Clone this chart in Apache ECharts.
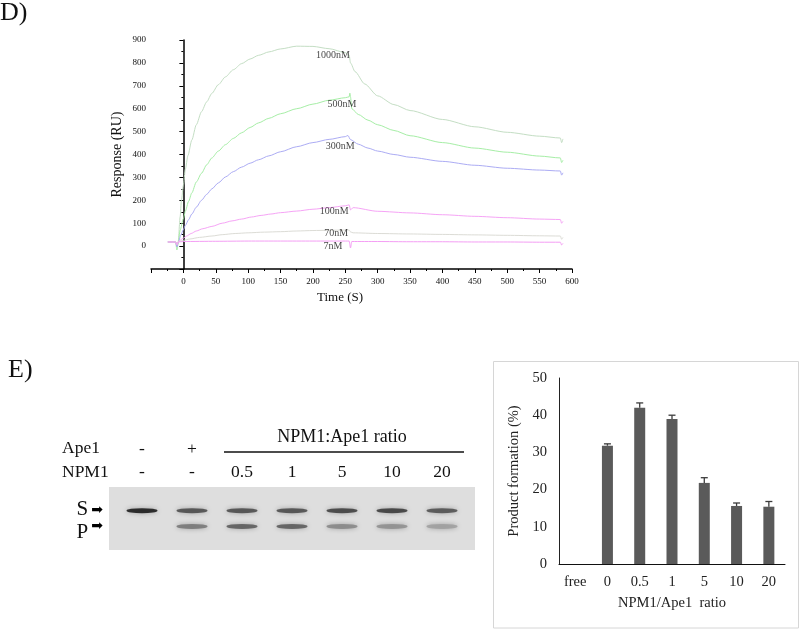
<!DOCTYPE html>
<html>
<head>
<meta charset="utf-8">
<script src="https://cdn.jsdelivr.net/npm/echarts@6/dist/echarts.min.js"></script>
<style>
html,body{margin:0;padding:0;background:#fff;}
#chart{width:800px;height:629px;}
</style>
</head>
<body>
<div id="chart"></div>
<script>
// ---------- Panel D: SPR sensorgram (time s, response RU) ----------
const curve1000 = [[-24,18],[-12,18],[-10,-3],[-8,20],[-5,128],[-3,200],[0,265],[3,335],[7,395],[13,463],[20,530],[28,587],[36,630],[44,667],[54,705],[65,739],[77,770],[90,797],[103,817],[116,833],[132,848],[150,861],[175,873],[200,872],[225,862],[250,845],[256,834],[258,800],[265,762],[280,708],[300,656],[325,618],[350,592],[400,553],[450,521],[500,497],[550,480],[582,472],[584,452],[586,468]];
const curve500 = [[-24,18],[-12,18],[-10,-17],[-8,12],[-5,70],[0,120],[3,152],[8,195],[13,232],[20,280],[28,318],[36,355],[44,385],[54,415],[65,443],[77,470],[90,495],[103,518],[116,538],[132,558],[150,578],[175,600],[200,620],[225,637],[250,648],[256,652],[257,668],[258,652],[260,600],[270,575],[285,550],[300,530],[325,505],[350,482],[400,452],[450,428],[500,410],[550,393],[582,385],[584,365],[586,375]];
const curve300 = [[-24,18],[-12,18],[-10,-3],[-8,14],[-4,48],[0,72],[3,90],[8,115],[13,140],[20,170],[28,200],[36,226],[44,250],[54,276],[65,302],[77,325],[90,345],[103,362],[116,377],[132,394],[150,412],[175,434],[200,452],[225,466],[250,478],[254,483],[258,465],[270,445],[285,428],[300,415],[325,400],[350,388],[400,370],[450,353],[500,340],[550,332],[582,328],[584,310],[586,320]];
const curve100 = [[-24,18],[-12,18],[-10,5],[-8,18],[-4,28],[0,35],[5,44],[12,55],[20,66],[30,76],[44,86],[60,100],[75,110],[90,118],[105,127],[120,134],[135,140],[150,146],[175,153],[200,161],[225,168],[250,176],[256,180],[258,158],[262,168],[300,152],[350,145],[400,137],[450,130],[500,124],[550,118],[582,116],[584,100],[586,108]];
const curve70 = [[-24,18],[-12,18],[-10,5],[-8,18],[-4,22],[0,25],[10,31],[25,38],[44,44],[60,50],[80,55],[100,58],[125,61],[150,63],[175,66],[200,68],[225,69],[250,70],[256,70],[258,62],[262,58],[300,55],[350,53],[400,51],[450,49],[500,47],[550,45],[582,44],[584,30],[586,38]];
const curve7 = [[-24,18],[-12,18],[-10,5],[-8,18],[0,20],[50,21],[100,22],[150,22],[200,22],[250,22],[256,22],[258,-8],[260,20],[300,20],[350,19],[400,19],[450,18],[500,18],[550,17],[582,17],[584,5],[586,12]];
const curveNames = ['1000nM','500nM','300nM','100nM','70nM','7nM'];
const curveLabelAnchors = [[231,834],[245,620],[242,434],[233,150],[236,55],[231,0]];

// ---------- Panel E: gel ----------
const lanes = ['L1','L2','L3','L4','L5','L6','L7'];
const ape1Row = ['-','+','','','','',''];
const npm1Row = ['-','-','0.5','1','5','10','20'];
const bandRows = ['lo','P','S','hi'];
const sBandIntensity = [0.97, 0.72, 0.72, 0.72, 0.78, 0.8, 0.7];
const pBandIntensity = [0.0, 0.5, 0.64, 0.64, 0.42, 0.38, 0.3];

// ---------- Panel E: bar chart ----------
const ratioCats = ['free','0','0.5','1','5','10','20'];
const productPct = [0, 31.8, 42.0, 39.0, 21.8, 15.6, 15.4];
const productErr = [0, 0.5, 1.3, 1.0, 1.4, 0.8, 1.4];

const FONT = '"Liberation Serif", "Times New Roman", serif';
const curves = [curve1000, curve500, curve300, curve100, curve70, curve7];
const curveColors = ['#c4dec4', '#a6eea6', '#acacf4', '#f6a4f6', '#dcdcd6', '#f49ef4'];

const chart = echarts.init(document.getElementById('chart'), null, {renderer: 'canvas'});

const lineSeries = curves.map((c, i) => ({
  type: 'line', name: curveNames[i], xAxisIndex: 0, yAxisIndex: 0,
  data: c, showSymbol: false, smooth: 0.25, smoothMonotone: 'x', animation: false,
  lineStyle: {width: 1, color: curveColors[i]}, z: 3
}));

const gelData = [];
lanes.forEach((l, i) => {
  gelData.push([l, 'S', sBandIntensity[i]]);
  if (pBandIntensity[i] > 0) gelData.push([l, 'P', pBandIntensity[i]]);
});

const option = {
  animation: false,
  backgroundColor: '#fff',
  textStyle: {fontFamily: FONT},
  grid: [
    {left: 151, right: 228, top: 40, bottom: 360},
    {left: 117, right: 333, top: 487, bottom: 79},
    {left: 559, right: 15, top: 378, bottom: 65}
  ],
  visualMap: [{
    type: 'continuous', show: false, seriesIndex: 7, dimension: 2,
    min: 0, max: 1, inRange: {color: ['#dedede', '#000000']}
  }],
  xAxis: [
    {
      gridIndex: 0, type: 'value', min: -50, max: 600, interval: 50,
      axisLine: {show: true, onZero: false, lineStyle: {color: '#000', width: 1.5}},
      axisTick: {show: true, length: 4, lineStyle: {color: '#000'}},
      minorTick: {show: true, splitNumber: 2, length: 2, lineStyle: {color: '#000'}},
      splitLine: {show: false},
      axisLabel: {fontSize: 9, color: '#111', margin: 8, fontFamily: FONT,
        formatter: v => v < 0 ? '' : String(v)},
      name: 'Time (S)', nameLocation: 'middle', nameGap: 22,
      nameTextStyle: {fontSize: 13, color: '#111', fontFamily: FONT, padding: [0, 43, 0, 0]}
    },
    {
      gridIndex: 1, type: 'category', data: lanes, position: 'top',
      axisLine: {show: false}, axisTick: {show: false}, splitLine: {show: false},
      axisLabel: {fontSize: 17.5, color: '#111', margin: 6, fontFamily: FONT,
        formatter: (v, i) => npm1Row[i]}
    },
    {
      gridIndex: 1, type: 'category', data: lanes, position: 'top', offset: 23,
      axisLine: {show: false}, axisTick: {show: false}, splitLine: {show: false},
      axisLabel: {fontSize: 17.5, color: '#111', margin: 6, fontFamily: FONT,
        formatter: (v, i) => ape1Row[i]}
    },
    {
      gridIndex: 2, type: 'category', data: ratioCats,
      axisLine: {show: true, lineStyle: {color: '#111', width: 1}},
      axisTick: {show: false}, splitLine: {show: false},
      axisLabel: {fontSize: 14.5, color: '#222', margin: 11, fontFamily: FONT},
      name: 'NPM1/Ape1  ratio', nameLocation: 'middle', nameGap: 32,
      nameTextStyle: {fontSize: 14.5, color: '#222', fontFamily: FONT}
    }
  ],
  yAxis: [
    {
      gridIndex: 0, type: 'value', min: -100, max: 900, interval: 100,
      axisLine: {show: true, lineStyle: {color: '#000', width: 1.5}},
      axisTick: {show: true, length: 4, lineStyle: {color: '#000'}},
      minorTick: {show: true, splitNumber: 2, length: 2, lineStyle: {color: '#000'}},
      splitLine: {show: false},
      axisLabel: {fontSize: 9, color: '#111', margin: 5, fontFamily: FONT,
        formatter: v => v < 0 ? '' : String(v)},
      name: 'Response (RU)', nameLocation: 'middle', nameGap: 27, nameMoveOverlap: false,
      nameTextStyle: {fontSize: 14, color: '#111', fontFamily: FONT}
    },
    {
      gridIndex: 1, type: 'category', data: bandRows,
      axisLine: {show: false}, axisTick: {show: false}, splitLine: {show: false},
      axisLabel: {
        margin: 14, color: '#111',
        formatter: v => v === 'S' ? '{s|S} {a|\u27A1}' : (v === 'P' ? '{p|P} {a|\u27A1}' : ''),
        rich: {
          s: {fontSize: 21, fontFamily: FONT, color: '#111', padding: [0, 0, 3, 0]},
          p: {fontSize: 21, fontFamily: FONT, color: '#111', padding: [12, 0, 0, 0]},
          a: {fontSize: 14, fontFamily: '"DejaVu Sans", sans-serif', color: '#000'}
        }
      }
    },
    {
      gridIndex: 2, type: 'value', min: 0, max: 50, interval: 10,
      axisLine: {show: true, lineStyle: {color: '#222', width: 1}},
      axisTick: {show: false}, splitLine: {show: false},
      axisLabel: {fontSize: 14.5, color: '#222', margin: 12, fontFamily: FONT},
      name: 'Product formation (%)', nameLocation: 'middle', nameGap: 37,
      nameTextStyle: {fontSize: 14.5, color: '#222', fontFamily: FONT}
    }
  ],
  series: lineSeries.concat([
    {
      type: 'scatter', xAxisIndex: 0, yAxisIndex: 0, symbolSize: 1,
      itemStyle: {color: 'transparent'}, z: 5,
      data: curveNames.map((n, i) => ({name: n, value: curveLabelAnchors[i]})),
      label: {show: true, position: 'inside', formatter: p => p.name,
        fontSize: 10, color: '#111', fontFamily: FONT}
    },
    {
      type: 'scatter', xAxisIndex: 1, yAxisIndex: 1, symbol: 'circle',
      symbolSize: [31, 5], data: gelData, z: 3,
      itemStyle: {shadowBlur: 5, shadowColor: 'rgba(0,0,0,0.35)'}
    },
    {
      type: 'bar', xAxisIndex: 3, yAxisIndex: 2, data: productPct, barWidth: 11,
      itemStyle: {color: '#5a5a5a'}
    },
    {
      type: 'custom', xAxisIndex: 3, yAxisIndex: 2, z: 4,
      data: productPct.map((v, i) => [i, v, productErr[i]]),
      renderItem: function (params, api) {
        const x = api.value(0), v = api.value(1), e = api.value(2);
        if (!(e > 0)) return null;
        const b = api.coord([x, v]);
        const t = api.coord([x, v + e]);
        const st = {stroke: '#3c3c3c', lineWidth: 1.3};
        return {type: 'group', children: [
          {type: 'line', shape: {x1: b[0], y1: b[1], x2: t[0], y2: t[1]}, style: st},
          {type: 'line', shape: {x1: t[0] - 3.5, y1: t[1], x2: t[0] + 3.5, y2: t[1]}, style: st}
        ]};
      }
    }
  ]),
  graphic: [
    {type: 'text', left: 0, top: 0, style: {text: 'D)', font: '26px ' + FONT, fill: '#111'}},
    {type: 'text', left: 8, top: 357, style: {text: 'E)', font: '26px ' + FONT, fill: '#111'}},
    {type: 'rect', z: -10, shape: {x: 109, y: 487, width: 366, height: 63}, style: {fill: '#dedede'}},
    {type: 'text', x: 62, y: 448, style: {text: 'Ape1', font: '17.5px ' + FONT, fill: '#111', verticalAlign: 'middle'}},
    {type: 'text', x: 62, y: 472, style: {text: 'NPM1', font: '17.5px ' + FONT, fill: '#111', verticalAlign: 'middle'}},
    {type: 'text', x: 342, y: 437, style: {text: 'NPM1:Ape1 ratio', font: '18px ' + FONT, fill: '#111', align: 'center', verticalAlign: 'middle'}},
    {type: 'line', shape: {x1: 224, y1: 452, x2: 464, y2: 452}, style: {stroke: '#111', lineWidth: 1.5}},
    {type: 'rect', shape: {x: 493.5, y: 361.5, width: 305, height: 266.5}, style: {fill: 'none', stroke: '#d6d6d6', lineWidth: 1}}
  ]
};
chart.setOption(option);
</script>
</body>
</html>
